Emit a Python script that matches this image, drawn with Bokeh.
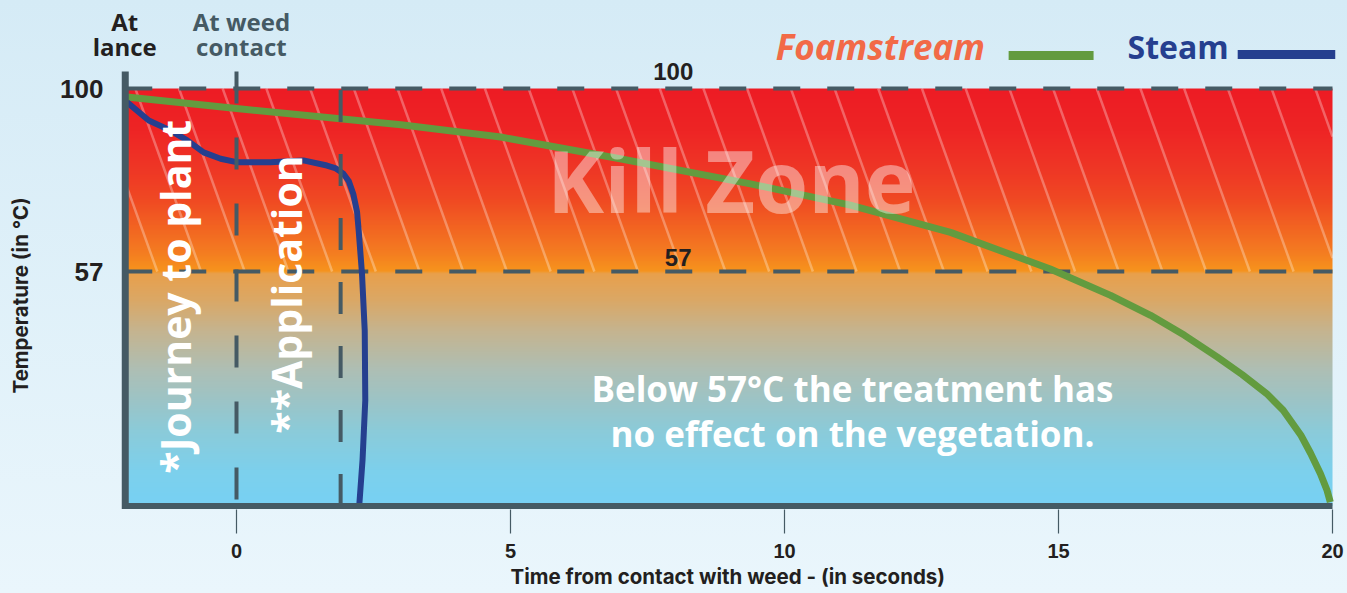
import numpy as np
from bokeh.plotting import figure
from bokeh.models import Range1d, FixedTicker, Label, Title
from bokeh.core.properties import value
from bokeh.embed import file_html
from bokeh.resources import INLINE

# ---------------- data ----------------
foam_t = [-2.0, 0.0, 3.0, 4.82, 7.0, 9.38, 11.2, 13.03, 14.85, 15.95, 16.68, 17.3, 17.9, 18.35, 18.8, 19.1,
          19.42, 19.6, 19.78, 19.9, 19.96]
foam_temp = [98.0, 95.3, 91.5, 88.6, 83.5, 77.6, 72.6, 66.2, 57.6, 51.4, 46.7, 42.0, 36.9, 32.8, 28.3, 24.4,
             18.6, 14.3, 9.5, 5.6, 2.8]

steam_t = [-2.0, -1.6, -1.2, -0.9, -0.6, -0.29, 0.0, 0.62, 1.22, 1.65, 1.8, 1.95, 2.05, 2.13, 2.2, 2.23,
           2.29, 2.34, 2.35, 2.30, 2.24]
steam_temp = [96.8, 92.5, 90.1, 87.8, 85.0, 83.5, 82.7, 82.7, 83.1, 81.9, 81.3, 80.0, 78.2, 75.3, 71.0, 66.6,
              56.5, 43.1, 26.7, 12.7, 2.0]

x_ticks = [0, 5, 10, 15, 20]
y_ticks = [57, 100]
y_tick_labels = ["57", "100"]
kill_temp = 57
max_temp = 100
phase_t = [0, 1.9]          # weed contact, end of application

# plotted area
X0, X1 = -2.03, 20.0        # gradient / axes extent
Y0, Y_TOP = 1.9, 104.0      # bottom axis level, top of left axis
# frame ranges (frame covers everything above the x axis)
XR = (-4.3066, 20.073)
YR = (1.08, 120.68)
PX_X = 54.8                 # pixels per second
PX_Y = 4.256                # pixels per degree

# gradient stops (temperature -> colour)
grad_temp = [1.0, 3.2, 10.2, 19.6, 26.7, 33.7, 43.1, 50.2, 56.5, 57.0, 62.0, 73.7, 79.6, 90.0, 100.0]
grad_col = ["#78d0f3", "#78d0f3", "#7dd0ec", "#8ccbd9", "#9dc4c6", "#aebfb5", "#c6b48f", "#dba866",
            "#e9a04c", "#f7941d", "#f47a21", "#f04a23", "#ef3a25", "#ee2525", "#ed1c24"]

DARK = "#231f20"
SLATE = "#455a64"
GREEN = "#639b3f"
BLUE = "#253f8f"
FOAM = "#f26a47"

p = figure(width=1347, height=593, output_backend="svg", toolbar_location=None,
           x_range=Range1d(*XR), y_range=Range1d(*YR), y_axis_location=None,
           min_border_left=0, min_border_right=11, min_border_top=0, min_border_bottom=84)
p.border_fill_color = None
p.background_fill_color = None
p.outline_line_color = None
p.styles = {"background": "linear-gradient(to bottom, #d5ebf6, #eaf6fc)"}
p.grid.visible = False

# ---------------- background gradient ----------------
N = 500
ys = np.linspace(Y0, max_temp, N)
def hex2rgb(h):
    return [int(h[i:i + 2], 16) for i in (1, 3, 5)]
rgb = np.array([hex2rgb(c) for c in grad_col], dtype=float)
img = np.zeros((N, 1), dtype=np.uint32)
view = img.view(dtype=np.uint8).reshape((N, 1, 4))
for ch in range(3):
    view[:, 0, ch] = np.interp(ys, grad_temp, rgb[:, ch]).astype(np.uint8)
view[:, 0, 3] = 255
p.image_rgba(image=[img], x=X0, y=Y0, dw=X1 - X0, dh=max_temp - Y0)

# ---------------- hatch in the kill zone (clipped to the plotted area) ----------------
hx0, hy0, hx1, hy1 = [], [], [], []
for s in 5.33 + 0.7975 * np.arange(-12, 20):
    a, b = s, s + 1.2
    ya, yb = float(max_temp), float(kill_temp)
    if b <= X0 or a >= X1:
        continue
    if a < X0:
        ya = ya + (X0 - a) / (b - a) * (yb - ya)
        a = X0
    if b > X1:
        yb = ya + (X1 - a) / (b - a) * (yb - ya)
        b = X1
    hx0.append(a); hy0.append(ya); hx1.append(b); hy1.append(yb)
p.segment(x0=hx0, y0=hy0, x1=hx1, y1=hy1, line_color="white", line_alpha=0.3, line_width=2.5)

# ---------------- horizontal dashed lines ----------------
for yv in [max_temp, kill_temp]:
    p.line(x=[X0, X1], y=[yv, yv], line_color=SLATE, line_width=4, line_dash="27 27")

# ---------------- curves ----------------
p.line(foam_t, foam_temp, line_color=GREEN, line_width=7, line_join="round")
p.line(steam_t, steam_temp, line_color=BLUE, line_width=6, line_join="round")

# ---------------- vertical dashed lines ----------------
p.line(x=[phase_t[0], phase_t[0]], y=[Y_TOP, Y0], line_color=SLATE, line_width=4, line_dash="32 34")
p.line(x=[phase_t[1], phase_t[1]], y=[Y0, max_temp], line_color=SLATE, line_width=4, line_dash="32 32")

# ---------------- axis lines (thick) ----------------
p.line(x=[X0, X0], y=[Y_TOP, YR[0] + 0.1], line_color=SLATE, line_width=7)
p.line(x=[X0 - 0.05, X1], y=[Y0, Y0], line_color=SLATE, line_width=6)

# ---------------- x axis (ticks + labels) ----------------
xa = p.xaxis[0]
xa.ticker = FixedTicker(ticks=x_ticks)
xa.axis_line_color = None
xa.major_tick_out = 24
xa.major_tick_in = 0
xa.major_tick_line_color = SLATE
xa.major_tick_line_width = 1.2
xa.minor_tick_line_color = None
xa.major_label_standoff = 10
xa.major_label_text_font = "Liberation Sans"
xa.major_label_text_font_style = "bold"
xa.major_label_text_font_size = "20px"
xa.major_label_text_color = DARK

# x axis title, placed in the panel below the axis
p.add_layout(Title(text="Time from contact with weed - (in seconds)", align="left", offset=510,
                   text_font="Inter", text_font_style="bold", text_font_size="20.5px",
                   text_color=DARK, standoff=3), "below")

# ---------------- y tick labels ----------------
p.text(x=[-133 / PX_X] * len(y_ticks), y=y_ticks, text=y_tick_labels,
       text_font=value("Liberation Sans"), text_font_style="bold", text_font_size="26px",
       text_color=DARK, text_align="right", text_baseline="middle")

def lab(text, x, y, size, color=DARK, font="Open Sans", style="bold", align="center",
        angle=0.0, alpha=1.0):
    # y / x give the wanted baseline; shift by measured renderer offset (0.44 em)
    off = 0.44 * size
    if angle == 0.0:
        y = y + off / PX_Y
    else:
        x = x - off / PX_X
    p.add_layout(Label(x=x, y=y, text=text, text_font=font, text_font_style=style,
                       text_font_size=f"{size}px", text_color=color, text_align=align,
                       text_baseline="alphabetic", angle=angle, text_alpha=alpha))

# axis title (y)
lab("Temperature (in °C)", -3.92 + 8 / PX_X, 51.4, 20.5, font="Inter", angle=np.pi / 2)

# headers
lab("At", -2.04, 113.16, 24)
lab("lance", -2.04, 107.3, 24)
lab("At weed", 0.09, 113.16, 24, color=SLATE)
lab("contact", 0.09, 107.3, 24, color=SLATE)

# threshold labels
lab("100", 7.97, 101.4, 24, font="Liberation Sans")
lab("57", 8.06, 57.9, 24, font="Liberation Sans")

# legend
legend_names = ["Foamstream", "Steam"]
lab(legend_names[0], 9.84, 106.3, 35, color=FOAM, style="bold italic", align="left")
lab(legend_names[1], 16.26, 106.6, 32, color=BLUE, align="left")
p.line(x=[14.09, 15.64], y=[107.75, 107.75], line_color=GREEN, line_width=9)
p.line(x=[18.27, 20.05], y=[108.0, 108.0], line_color=BLUE, line_width=9)

# in-chart texts
lab("Kill Zone", 9.03, 69.7, 86, color="white", alpha=0.42)
lab("*Journey to plant", -0.80, 9.5, 41, color="white", align="left", angle=np.pi / 2)
lab("**Application", 1.24, 18.9, 41, color="white", align="left", angle=np.pi / 2)
lab("Below 57°C the treatment has", 11.24, 26.0, 35, color="white")
lab("no effect on the vegetation.", 11.24, 15.4, 35, color="white")

open("out.html", "w").write(file_html(p, INLINE))
